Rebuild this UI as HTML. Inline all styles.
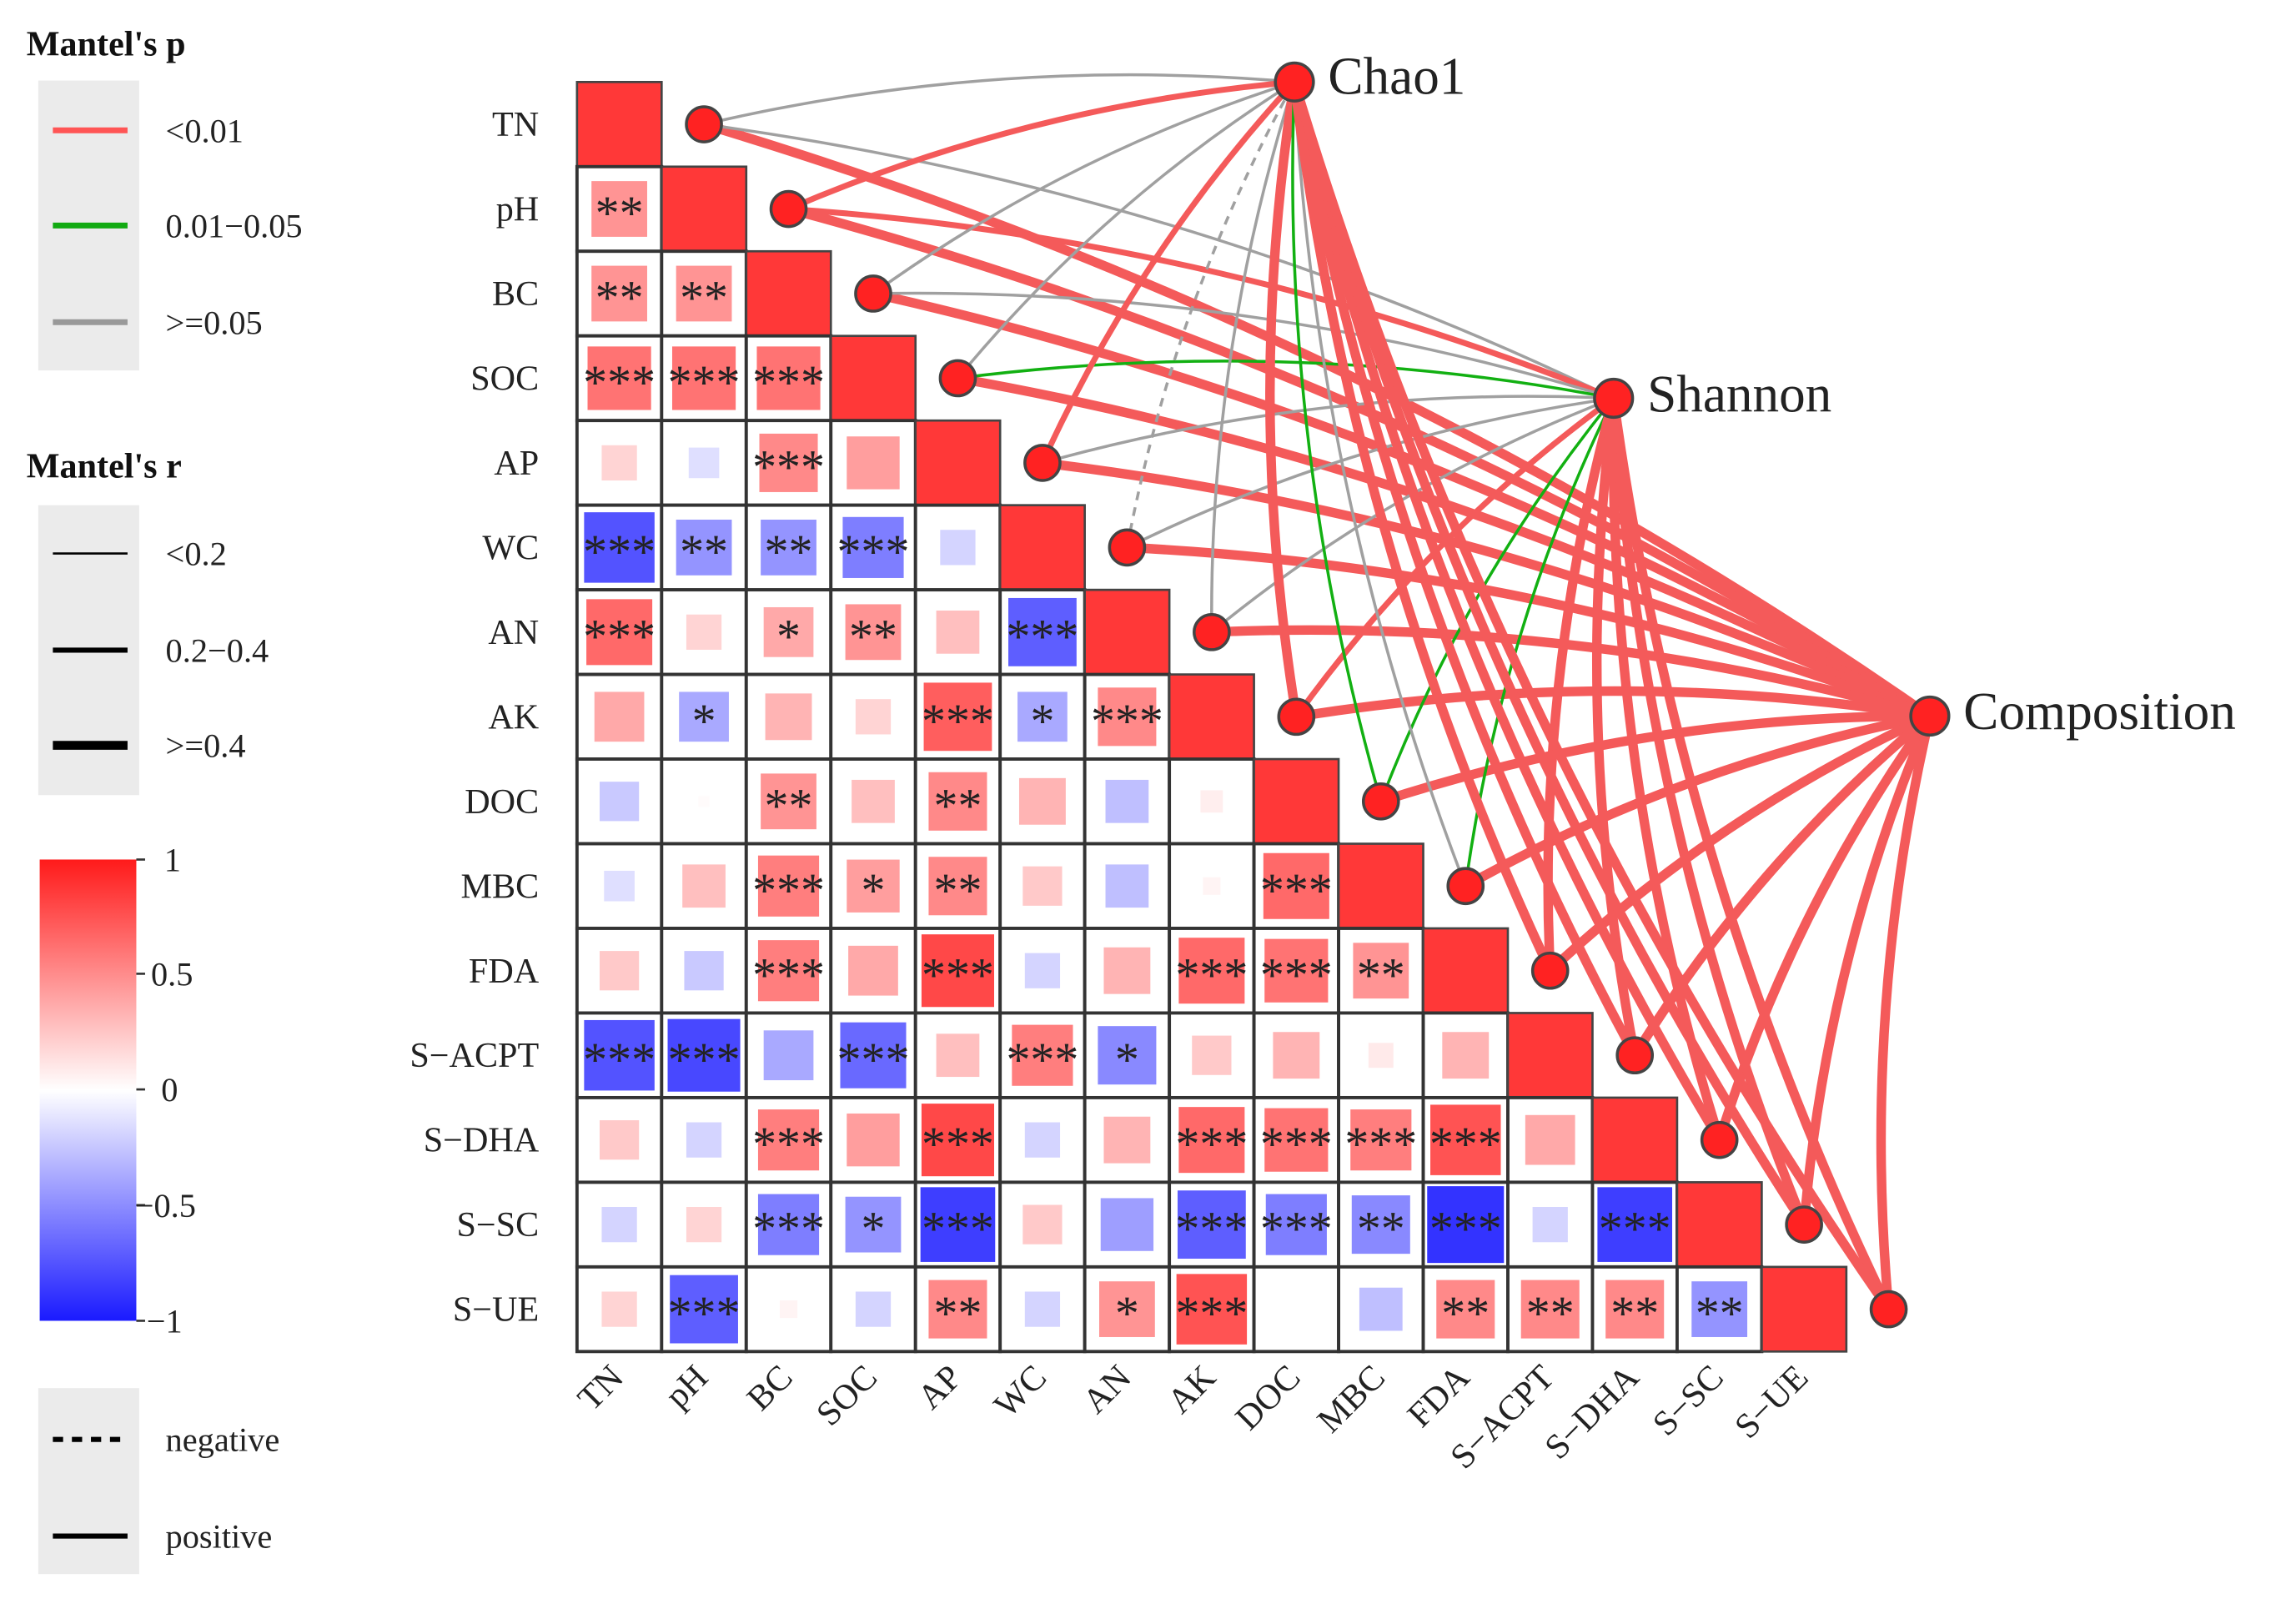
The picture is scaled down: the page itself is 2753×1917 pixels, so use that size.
<!DOCTYPE html>
<html><head><meta charset="utf-8"><style>
html,body{margin:0;padding:0;background:#fff;}
svg{display:block;font-family:"Liberation Serif",serif;}
</style></head><body>
<svg id="s" width="2753" height="1917" viewBox="0 0 1568 1092" xmlns="http://www.w3.org/2000/svg">
<defs>
<linearGradient id="cb" x1="0" y1="0" x2="0" y2="1">
<stop offset="0" stop-color="#ff1a1a"/><stop offset="0.5" stop-color="#ffffff"/><stop offset="1" stop-color="#1a1aff"/>
</linearGradient>
</defs>
<g id="legend">
<text x="18" y="38" font-size="24" font-weight="bold" fill="#111">Mantel's p</text>
<rect x="26" y="55" width="69" height="198" fill="#ebebeb"/>
<line x1="36" y1="89" x2="87" y2="89" stroke="#f55" stroke-width="4"/>
<line x1="36" y1="154" x2="87" y2="154" stroke="#1a1" stroke-width="4"/>
<line x1="36" y1="220" x2="87" y2="220" stroke="#999" stroke-width="4"/>
<text x="113" y="97" font-size="23" fill="#222">&lt;0.01</text>
<text x="113" y="162" font-size="23" fill="#222">0.01−0.05</text>
<text x="113" y="228" font-size="23" fill="#222">&gt;=0.05</text>
<text x="18" y="326" font-size="24" font-weight="bold" fill="#111">Mantel's r</text>
<rect x="26" y="345" width="69" height="198" fill="#ebebeb"/>
<line x1="36" y1="378" x2="87" y2="378" stroke="#000" stroke-width="1.5"/>
<line x1="36" y1="444" x2="87" y2="444" stroke="#000" stroke-width="3.5"/>
<line x1="36" y1="509" x2="87" y2="509" stroke="#000" stroke-width="6"/>
<text x="113" y="386" font-size="23" fill="#222">&lt;0.2</text>
<text x="113" y="452" font-size="23" fill="#222">0.2−0.4</text>
<text x="113" y="517" font-size="23" fill="#222">&gt;=0.4</text>
<rect x="27" y="587" width="66" height="315" fill="url(#cb)"/>
<g stroke="#333" stroke-width="1.5">
<line x1="93" y1="587" x2="99" y2="587"/><line x1="93" y1="665" x2="99" y2="665"/><line x1="93" y1="744" x2="99" y2="744"/><line x1="93" y1="823" x2="99" y2="823"/><line x1="93" y1="902" x2="99" y2="902"/>
</g>
<g font-size="23" fill="#222">
<text x="112" y="595">1</text><text x="103" y="673">0.5</text><text x="110" y="752">0</text><text x="92" y="831">−0.5</text><text x="100" y="910">−1</text>
</g>
<rect x="26" y="948" width="69" height="127" fill="#ebebeb"/>
<line x1="36" y1="983" x2="87" y2="983" stroke="#000" stroke-width="3.5" stroke-dasharray="7,6"/>
<line x1="36" y1="1049" x2="87" y2="1049" stroke="#000" stroke-width="3.5"/>
<text x="113" y="991" font-size="23" fill="#222">negative</text>
<text x="113" y="1057" font-size="23" fill="#222">positive</text>
</g>
<g id="mat"></g>
<g id="edges"></g>
<g id="nodes"></g>
</svg>
<script>
var NS="http://www.w3.org/2000/svg";
function el(t,a,p,txt){var e=document.createElementNS(NS,t);for(var k in a)e.setAttribute(k,a[k]);if(txt!=null)e.textContent=txt;p.appendChild(e);return e;}
var names=["TN","pH","BC","SOC","AP","WC","AN","AK","DOC","MBC","FDA","S\u2212ACPT","S\u2212DHA","S\u2212SC","S\u2212UE"];
var V=[[],
[[0.5,2]],
[[0.5,2],[0.5,2]],
[[0.65,3],[0.65,3],[0.65,3]],
[[0.2,0],[-0.15,0],[0.55,3],[0.45,0]],
[[-0.8,3],[-0.5,2],[-0.5,2],[-0.6,3],[-0.2,0]],
[[0.7,3],[0.2,0],[0.4,1],[0.5,2],[0.3,0],[-0.75,3]],
[[0.4,0],[-0.4,1],[0.35,0],[0.2,0],[0.75,3],[-0.4,1],[0.55,3]],
[[-0.25,0],[0.02,0],[0.5,2],[0.3,0],[0.55,2],[0.35,0],[-0.3,0],[0.08,0]],
[[-0.15,0],[0.3,0],[0.6,3],[0.45,1],[0.55,2],[0.25,0],[-0.3,0],[0.05,0],[0.7,3]],
[[0.25,0],[-0.25,0],[0.6,3],[0.4,0],[0.85,3],[-0.2,0],[0.35,0],[0.7,3],[0.65,3],[0.5,2]],
[[-0.8,3],[-0.85,3],[-0.4,0],[-0.7,3],[0.3,0],[0.6,3],[-0.55,1],[0.25,0],[0.35,0],[0.1,0],[0.35,0]],
[[0.25,0],[-0.2,0],[0.6,3],[0.45,0],[0.85,3],[-0.2,0],[0.35,0],[0.7,3],[0.65,3],[0.6,3],[0.8,3],[0.4,0]],
[[-0.2,0],[0.2,0],[-0.6,3],[-0.5,1],[-0.9,3],[0.25,0],[-0.45,0],[-0.75,3],[-0.6,3],[-0.55,2],[-0.95,3],[-0.2,0],[-0.9,3]],
[[0.2,0],[-0.75,3],[0.05,0],[-0.2,0],[0.55,2],[-0.2,0],[0.5,1],[0.8,3],[0.0,0],[-0.3,0],[0.55,2],[0.55,2],[0.55,2],[-0.5,2]]];
var X0=394,Y0=56,C=57.8;
var mat=document.getElementById("mat");
function col(r){var t=Math.abs(r);var a=Math.round(255-t*(255-40));if(r>=0)return "rgb(255,"+a+","+a+")";return "rgb("+a+","+a+",255)";}
for(var i=0;i<15;i++){
 for(var j=0;j<i;j++){
  var x=X0+j*C,y=Y0+i*C;
  el("rect",{x:x,y:y,width:C,height:C,fill:"#fff",stroke:"#333","stroke-width":2.2},mat);
  var v=V[i][j];var s=Math.sqrt(Math.abs(v[0]))*(C-4);
  if(s>0.5)el("rect",{x:x+C/2-s/2,y:y+C/2-s/2,width:s,height:s,fill:col(v[0])},mat);
  if(v[1])el("text",{x:x+C/2,y:y+C/2+14,"font-size":33,"text-anchor":"middle",fill:"#222"},mat,"*".repeat(v[1]));
 }
 el("rect",{x:X0+i*C,y:Y0+i*C,width:C,height:C,fill:"#ff3838",stroke:"#444","stroke-width":1.5},mat);
 el("text",{x:368,y:Y0+i*C+C/2+8,"font-size":24,"text-anchor":"end",fill:"#222"},mat,names[i]);
 var cx=X0+i*C+C/2+4,cy=942;
 el("text",{x:cx,y:cy,"font-size":24,"text-anchor":"end",fill:"#222",transform:"rotate(-45 "+cx+" "+cy+")"},mat,names[i]);
}
var hubs={C:[884,56],S:[1102,272],P:[1318,489]};
var E={
C:["y","r","y","y","r","d","y","R","g","y","R","R","R","R","R"],
S:["y","r","y","g","y","y","y","r","g","g","R","R","R","R","R"],
P:["R","R","R","R","R","R","R","R","R","R","R","R","R","R","R"]};
var sty={R:["#f45a5a",6.5,""],r:["#f45a5a",4,""],g:["#12b012",2,""],y:["#a0a0a0",2,""],d:["#a0a0a0",2,"6,5"]};
var eg=document.getElementById("edges");
var nodes=[];for(var i=0;i<15;i++)nodes.push([X0+C*(i+1.5),Y0+C*(i+0.5)]);
["P","S","C"].forEach(function(h){var H=hubs[h];
 for(var i=0;i<15;i++){var n=nodes[i];var st=sty[E[h][i]];
  var dx=H[0]-n[0],dy=H[1]-n[1];
  var k=0.08;var mx=(n[0]+H[0])/2+dy*k,my=(n[1]+H[1])/2-dx*k;
  var a={d:"M"+n[0]+","+n[1]+" Q"+mx+","+my+" "+H[0]+","+H[1],fill:"none",stroke:st[0],"stroke-width":st[1]};
  if(st[2])a["stroke-dasharray"]=st[2];
  el("path",a,eg);
 }});
var ng=document.getElementById("nodes");
nodes.forEach(function(n){el("circle",{cx:n[0],cy:n[1],r:12,fill:"#f22",stroke:"#444","stroke-width":2},ng);});
for(var h in hubs)el("circle",{cx:hubs[h][0],cy:hubs[h][1],r:13,fill:"#f22",stroke:"#444","stroke-width":2},ng);
el("text",{x:907,y:64,"font-size":36,fill:"#222"},ng,"Chao1");
el("text",{x:1125,y:281,"font-size":36,fill:"#222"},ng,"Shannon");
el("text",{x:1341,y:498,"font-size":36,fill:"#222"},ng,"Composition");
</script>
</body></html>
